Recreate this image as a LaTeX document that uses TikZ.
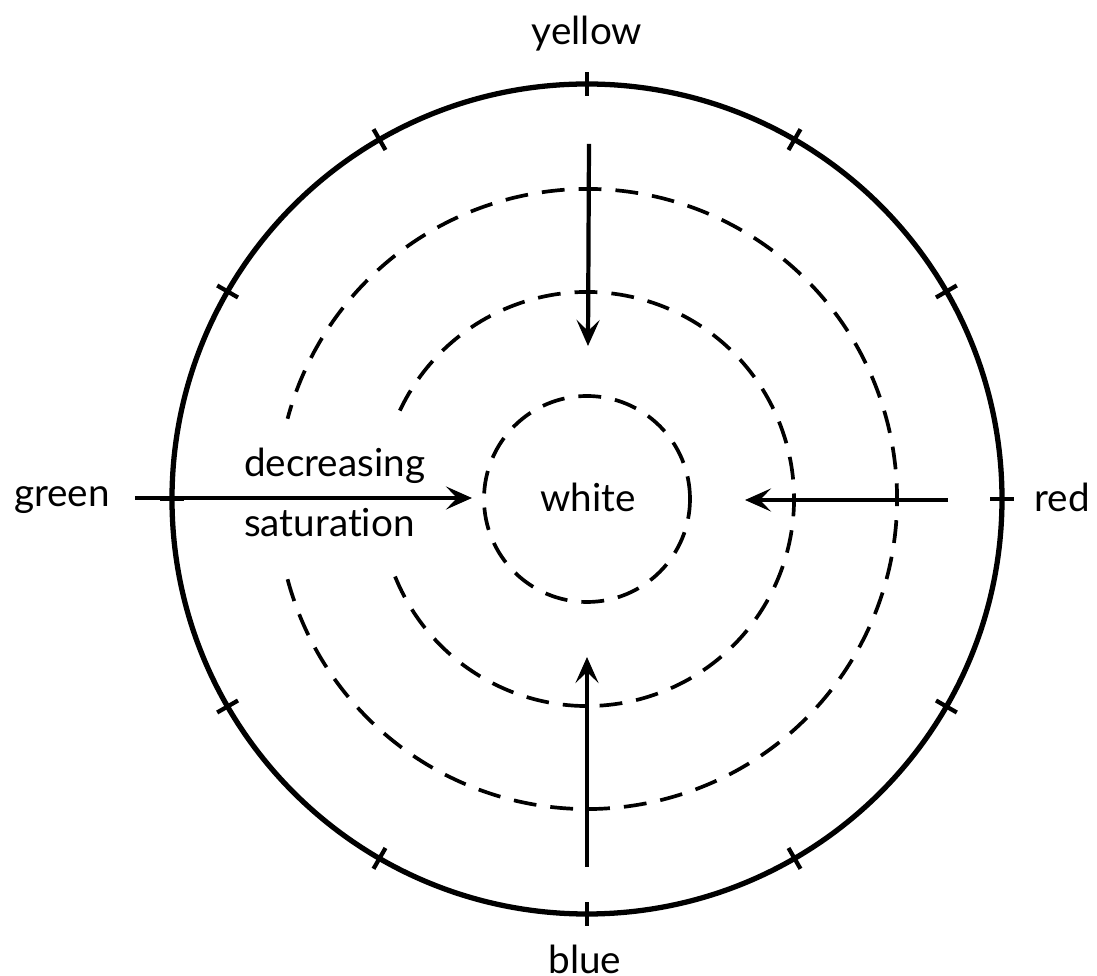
\documentclass[tikz,border=0pt]{standalone}
\usepackage{fontspec}
\setmainfont{Lato}[Ligatures=NoCommon]
\usetikzlibrary{arrows.meta}
\begin{document}
\begin{tikzpicture}[line width=1.2pt, every node/.style={font=\fontsize{11}{13}\selectfont, inner sep=0pt},
    ring/.style={line width=1.05pt, dash pattern=on 6.5pt off 4pt},
    inward/.style={-{Stealth[length=2.6mm, width=2.3mm, inset=1.1mm]}}]
                \useasboundingbox (-5.87,-4.77) rectangle (5.10,4.99);
                \draw[line width=1.5pt] (0,0) circle (4.15);
                \foreach \angle in {0,30,...,330}
                    \draw[line width=1.2pt] (\angle:4.03) -- (\angle:4.27);
                \draw[ring] (0,0) circle (1.03);
                \draw[ring] (-158:2.07) arc (-158:158:2.07);
                \draw[ring] (-165:3.10) arc (-165:165:3.10);
                \coordinate (yellow-start) at (0.02,3.55);
                \coordinate (yellow-end) at (0.01,1.53);
                \coordinate (blue-start) at (0,-3.68);
                \coordinate (blue-end) at (0,-1.58);
                \coordinate (green-start) at (-4.52,0.01);
                \coordinate (green-end) at (-1.15,0.01);
                \coordinate (red-start) at (3.61,-0.01);
                \coordinate (red-end) at (1.58,-0.01);
                \foreach \hue in {yellow,blue,green,red}
                    \draw[inward] (\hue-start) -- (\hue-end);
                \node[anchor=base] (yellow) at (0,4.54) {yellow};
                \node[anchor=base] (blue) at (-0.02,-4.74) {blue};
                \node[anchor=base] (green) at (-5.25,-0.08) {green};
                \node[anchor=base east] (red) at (5.05,-0.13) {red};
                \node[anchor=base] (white) at (0.01,-0.13) {white};
                \node[anchor=base west] (decreasing) at (-3.45,0.22) {decreasing};
                \node[anchor=base west] (saturation) at (-3.45,-0.38) {saturation};
            \end{tikzpicture}
\end{document}
